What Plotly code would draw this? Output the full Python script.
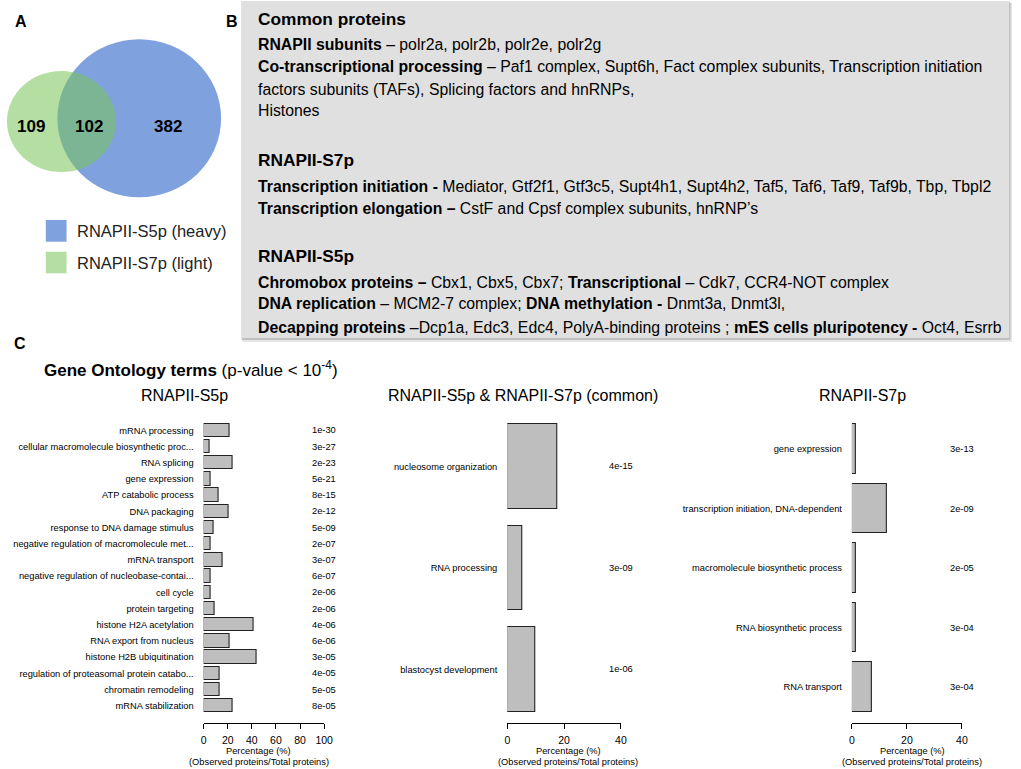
import plotly.graph_objects as go

W, H = 1021, 769
def px(x): return x / W
def py(y): return 1 - y / H

FONT = "Liberation Sans, Arial, Helvetica, sans-serif"

# ---------------- data ----------------
venn_labels = ["RNAPII-S5p (heavy)", "RNAPII-S7p (light)"]
venn_counts = {"s7_only": 109, "common": 102, "s5_only": 382}

s5_terms = ["mRNA processing", "cellular macromolecule biosynthetic proc...", "RNA splicing",
            "gene expression", "ATP catabolic process", "DNA packaging",
            "response to DNA damage stimulus", "negative regulation of macromolecule met...",
            "mRNA transport", "negative regulation of nucleobase-contai...", "cell cycle",
            "protein targeting", "histone H2A acetylation", "RNA export from nucleus",
            "histone H2B ubiquitination", "regulation of proteasomal protein catabo...",
            "chromatin remodeling", "mRNA stabilization"]
s5_pct = [21.5, 5.2, 24.0, 6.0, 12.8, 20.7, 8.4, 6.0, 16.0, 6.0, 6.0, 9.0, 41.7, 21.2, 44.0, 13.6, 13.3, 23.7]
s5_pval = ["1e-30", "3e-27", "2e-23", "5e-21", "8e-15", "2e-12", "5e-09", "2e-07", "3e-07",
           "6e-07", "2e-06", "2e-06", "4e-06", "6e-06", "3e-05", "4e-05", "5e-05", "8e-05"]

common_terms = ["nucleosome organization", "RNA processing", "blastocyst development"]
common_pct = [17.7, 5.3, 10.0]
common_pval = ["4e-15", "3e-09", "1e-06"]

s7_terms = ["gene expression", "transcription initiation, DNA-dependent",
            "macromolecule biosynthetic process", "RNA biosynthetic process", "RNA transport"]
s7_pct = [1.6, 12.9, 1.3, 1.3, 7.4]
s7_pval = ["3e-13", "2e-09", "2e-05", "3e-04", "3e-04"]

panel_titles = ["RNAPII-S5p", "RNAPII-S5p & RNAPII-S7p (common)", "RNAPII-S7p"]
x_max = [100, 40, 40]
x_ticks = [[0, 20, 40, 60, 80, 100], [0, 20, 40], [0, 20, 40]]

# text box lines: (segments, y, is_header); segment = (text, bold)
box_lines = [
    ([("Common proteins", True)], 19, True),
    ([("RNAPII subunits", True), (" – polr2a, polr2b, polr2e, polr2g", False)], 44, False),
    ([("Co-transcriptional processing", True), (" – Paf1 complex, Supt6h, Fact complex subunits, Transcription initiation", False)], 67, False),
    ([("factors subunits (TAFs), Splicing factors and hnRNPs,", False)], 89, False),
    ([("Histones", False)], 111, False),
    ([("RNAPII-S7p", True)], 160, True),
    ([("Transcription initiation -", True), (" Mediator, Gtf2f1, Gtf3c5, Supt4h1, Supt4h2, Taf5, Taf6, Taf9, Taf9b, Tbp, Tbpl2", False)], 186, False),
    ([("Transcription elongation –", True), (" CstF and Cpsf complex subunits, hnRNP’s", False)], 208, False),
    ([("RNAPII-S5p", True)], 256, True),
    ([("Chromobox proteins –", True), (" Cbx1, Cbx5, Cbx7; ", False), ("Transcriptional", True), (" – Cdk7, CCR4-NOT complex", False)], 282, False),
    ([("DNA replication", True), (" – MCM2-7 complex; ", False), ("DNA methylation -", True), (" Dnmt3a, Dnmt3l,", False)], 304, False),
    ([("Decapping proteins", True), (" –Dcp1a, Edc3, Edc4, PolyA-binding proteins ; ", False), ("mES cells pluripotency -", True), (" Oct4, Esrrb", False)], 327, False),
]

# ---------------- layout geometry (pixels) ----------------
panels = [
    dict(terms=s5_terms, pct=s5_pct, pval=s5_pval, x0=203, x1=325, c0=430.3, step=16.2, title_x=184, lab_x=259),
    dict(terms=common_terms, pct=common_pct, pval=common_pval, x0=510.3, x1=625.3, c0=466.4, step=101.45, title_x=526, lab_x=572),
    dict(terms=s7_terms, pct=s7_pct, pval=s7_pval, x0=859, x1=970.3, c0=449.2, step=59.5, title_x=870, lab_x=920),
]
dom_top, dom_bot = 415.0, 722.5

fig = go.Figure()
annotations = []
shapes = []
layout_axes = {}

for k, p in enumerate(panels):
    n = len(p["terms"])
    sfx = "" if k == 0 else str(k + 1)
    fig.add_trace(go.Bar(
        x=p["pct"], y=list(range(n)), orientation="h", width=0.833,
        marker=dict(color="#bebebe", line=dict(color="#222222", width=1.1)),
        xaxis="x" + sfx, yaxis="y" + sfx, showlegend=False, hoverinfo="x+y",
    ))
    r_lo = (dom_bot - p["c0"]) / p["step"]
    r_hi = (dom_top - p["c0"]) / p["step"]
    layout_axes["xaxis" + sfx] = dict(
        domain=[px(p["x0"]), px(p["x1"])], range=[0, x_max[k]], anchor="y" + sfx,
        showline=True, linecolor="black", linewidth=1, ticks="outside", ticklen=5,
        tickwidth=1, tickcolor="black", tickvals=x_ticks[k], showgrid=False, zeroline=False,
        tickfont=dict(family=FONT, size=10.5, color="black"), ticklabelstandoff=3,
    )
    layout_axes["yaxis" + sfx] = dict(
        domain=[py(dom_bot), py(dom_top)], range=[r_lo, r_hi], anchor="x" + sfx,
        tickvals=list(range(n)), ticktext=p["terms"], ticks="", showline=False,
        showgrid=False, zeroline=False, ticklabelstandoff=9,
        tickfont=dict(family=FONT, size=9.3, color="black"),
    )
    for t, pv in zip(range(n), p["pval"]):
        annotations.append(dict(x=x_max[k], y=t, xref="x" + sfx, yref="y" + sfx, text=pv,
                                showarrow=False, xanchor="center", yanchor="middle",
                                font=dict(family=FONT, size=9.3, color="black")))
    annotations.append(dict(x=px(p["title_x"]), y=py(395), xref="paper", yref="paper",
                            text=panel_titles[k], showarrow=False, xanchor="center", yanchor="middle",
                            font=dict(family=FONT, size=16, color="black")))
    annotations.append(dict(x=px(p["lab_x"]), y=py(751), xref="paper", yref="paper",
                            text="Percentage (%)", showarrow=False, xanchor="center", yanchor="middle",
                            font=dict(family=FONT, size=9.3, color="black")))
    annotations.append(dict(x=px(p["lab_x"]), y=py(762), xref="paper", yref="paper",
                            text="(Observed proteins/Total proteins)", showarrow=False,
                            xanchor="center", yanchor="middle",
                            font=dict(family=FONT, size=9.3, color="black")))

# ---------------- Venn (panel A) ----------------
def ell(x0, y0, x1, y1, color, opacity=1.0):
    return dict(type="circle", xref="paper", yref="paper", x0=px(x0), x1=px(x1), y0=py(y1), y1=py(y0),
                fillcolor=color, opacity=opacity, line=dict(width=0), layer="above")

shapes.append(ell(55, 39.3, 220.7, 197.3, "#7fa2df"))
shapes.append(ell(4, 71, 114.3, 172, "#79c556", 0.55))
for txt, x in [(venn_counts["s7_only"], 28.3), (venn_counts["common"], 87.5), (venn_counts["s5_only"], 166.7)]:
    annotations.append(dict(x=px(x), y=py(126.5), xref="paper", yref="paper", text=f"<b>{txt}</b>",
                            showarrow=False, xanchor="center", yanchor="middle",
                            font=dict(family=FONT, size=17, color="black")))
for (y0, y1, col), lab in zip([(220, 241.7, "#7fa2df"), (251.7, 273.3, "#b4dea2")], venn_labels):
    shapes.append(dict(type="rect", xref="paper", yref="paper", x0=px(43.3), x1=px(64.3),
                       y0=py(y1), y1=py(y0), fillcolor=col, line=dict(width=0)))
    annotations.append(dict(x=px(72.5), y=py((y0 + y1) / 2), xref="paper", yref="paper", text=lab,
                            showarrow=False, xanchor="left", yanchor="middle",
                            font=dict(family=FONT, size=16.5, color="#222222")))

# ---------------- Text box (panel B) ----------------
bx0, by0, bx1, by1 = 241, 1, 1018, 338
shapes.append(dict(type="rect", xref="paper", yref="paper", x0=px(bx0 + 1), x1=px(bx1 + 3),
                   y0=py(by1 + 4), y1=py(by0 + 2), fillcolor="rgba(0,0,0,0.10)", line=dict(width=0), layer="below"))
shapes.append(dict(type="rect", xref="paper", yref="paper", x0=px(bx0 + 0.5), x1=px(bx1 + 1.5),
                   y0=py(by1 + 2), y1=py(by0 + 1), fillcolor="rgba(0,0,0,0.16)", line=dict(width=0), layer="below"))
shapes.append(dict(type="rect", xref="paper", yref="paper", x0=px(bx0), x1=px(bx1),
                   y0=py(by1), y1=py(by0), fillcolor="#e0e0e0", line=dict(width=0), layer="below"))

def seg_html(segs):
    return "".join(f"<b>{s}</b>" if b else s for s, b in segs)

for segs, y, is_header in box_lines:
    annotations.append(dict(x=px(256), y=py(y), xref="paper", yref="paper", text=seg_html(segs),
                            showarrow=False, xanchor="left", yanchor="middle", align="left",
                            font=dict(family=FONT, size=17.3 if is_header else 15.8, color="black")))

# ---------------- panel letters & GO header ----------------
for letter, x, y in [("A", 18, 22), ("B", 232, 22), ("C", 17, 344)]:
    annotations.append(dict(x=px(x), y=py(y), xref="paper", yref="paper", text=f"<b>{letter}</b>",
                            showarrow=False, xanchor="center", yanchor="middle",
                            font=dict(family=FONT, size=16, color="black")))
annotations.append(dict(x=px(39), y=py(369), xref="paper", yref="paper",
                        text="<b>Gene Ontology terms</b> (p-value &lt; 10<sup>-4</sup>)",
                        showarrow=False, xanchor="left", yanchor="middle",
                        font=dict(family=FONT, size=17, color="black")))

fig.update_layout(
    width=W, height=H, margin=dict(l=0, r=0, t=0, b=0),
    paper_bgcolor="white", plot_bgcolor="rgba(0,0,0,0)",
    annotations=annotations, shapes=shapes, bargap=0, **layout_axes,
)
fig.write_html(
    "out.html",
    config={"displayModeBar": False},
    post_script="document.body.style.margin='0px';document.body.style.padding='0px';"
                "document.documentElement.style.overflow='hidden';",
)
